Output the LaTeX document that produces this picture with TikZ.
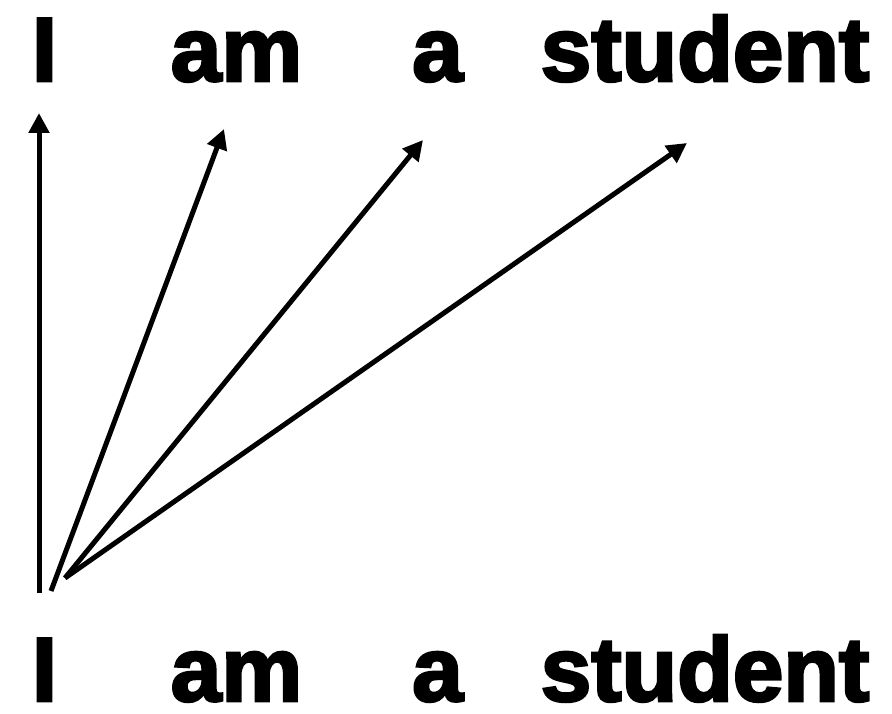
\documentclass[tikz,border=0pt]{standalone}
\usepackage{fontspec}
\usepackage{tikz}
\usetikzlibrary{arrows.meta}
\newfontfamily\wordfont[FakeBold=3]{Liberation Sans Bold}

\begin{document}
\begin{tikzpicture}[x=1pt,y=1pt,line cap=butt,
  word/.style={anchor=base,inner sep=0pt,font=\wordfont\fontsize{91}{91}\selectfont},
  attn/.style={line width=5pt,-{Triangle[length=20pt,width=20pt]}}]
\useasboundingbox (0,0) rectangle (892,714);
% output words (top) and input words (bottom)
\node[word](tI)at(44.5,633){I};
\node[word](tam)at(236.5,633){am};
\node[word](ta)at(437.5,633){a};
\node[word](tstudent)at(705,633){student};
\node[word](bI)at(44.5,13){I};
\node[word](bam)at(236.5,13){am};
\node[word](ba)at(437.5,13){a};
\node[word](bstudent)at(705,13){student};
% arrow ends
\coordinate(fromI)at(39,121);
\coordinate(fromI2)at(51,123);
\coordinate(fromI3)at(65,136);
\coordinate(toI)at(39,601);
\coordinate(toam)at(224,585);
\coordinate(toa)at(423,574);
\coordinate(tostudent)at(687,571);
\draw[attn](fromI)--(toI);
\draw[attn](fromI2)--(toam);
\draw[attn](fromI3)--(toa);
\draw[attn](fromI3)--(tostudent);
\end{tikzpicture}
\end{document}
